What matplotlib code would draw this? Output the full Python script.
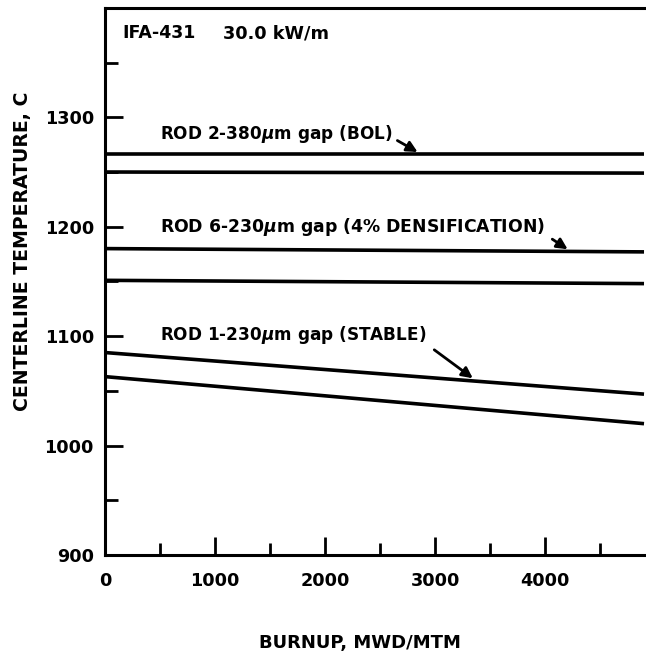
import matplotlib
matplotlib.use("Agg")
import matplotlib.pyplot as plt
from matplotlib.ticker import MultipleLocator

plt.rcParams['font.family'] = ['DejaVu Sans']
plt.rcParams['font.weight'] = 'bold'

# burnup end points (MWD/MTM) and centerline temperatures (C)
burnup = [0, 4900]
rod2_upper = [1266, 1266]
rod2_lower = [1250, 1249]
rod6_upper = [1180, 1177]
rod6_lower = [1151, 1148]
rod1_upper = [1085, 1047]
rod1_lower = [1063, 1020]

x_ticks = [0, 1000, 2000, 3000, 4000]
y_ticks = [900, 1000, 1100, 1200, 1300]

fig = plt.figure(figsize=(6.46, 6.56), dpi=100)
ax = fig.add_axes([0.1625, 0.154, 0.8375, 0.834])

for temps in (rod2_upper, rod2_lower, rod6_upper, rod6_lower, rod1_upper, rod1_lower):
    ax.plot(burnup, temps, color='black', linewidth=2.6, solid_capstyle='butt')

ax.set_xlim(0, 4918)
ax.set_ylim(900, 1400)
ax.set_xticks(x_ticks)
ax.set_yticks(y_ticks)
ax.xaxis.set_minor_locator(MultipleLocator(500))
ax.yaxis.set_minor_locator(MultipleLocator(50))
ax.tick_params(which='major', direction='in', length=13, width=2, labelsize=12.7, pad=8)
ax.tick_params(which='minor', direction='in', length=9, width=2)
ax.tick_params(axis='x', pad=12)
for lab in ax.get_xticklabels() + ax.get_yticklabels():
    lab.set_fontweight('bold')

for side in ('left', 'bottom', 'top'):
    ax.spines[side].set_linewidth(2.2)
ax.spines['right'].set_visible(False)

fig.text(360 / 646, 1 - 643 / 656, 'BURNUP, MWD/MTM', fontsize=13.0,
         fontweight='bold', ha='center', va='center')
fig.text(23 / 646, 1 - 251 / 656, 'CENTERLINE TEMPERATURE, C', fontsize=13.6,
         fontweight='bold', ha='center', va='center', rotation=90)

ax.text(155, 1377, 'IFA-431', fontsize=12.5, fontweight='bold', va='center')
ax.text(1073, 1377, '30.0 kW/m', fontsize=12.7, fontweight='bold', va='center')

ax.text(500, 1285, r'ROD 2-380$\mu$m gap (BOL)', fontsize=12.2, fontweight='bold', va='center')
ax.text(500, 1200, r'ROD 6-230$\mu$m gap (4% DENSIFICATION)', fontsize=12.4, fontweight='bold', va='center')
ax.text(500, 1101, r'ROD 1-230$\mu$m gap (STABLE)', fontsize=12.2, fontweight='bold', va='center')

arrow = dict(arrowstyle='-|>', color='black', lw=2, mutation_scale=16)
ax.annotate('', xy=(2864, 1267), xytext=(2636, 1280), arrowprops=arrow)
ax.annotate('', xy=(4227, 1178), xytext=(4045, 1190), arrowprops=arrow)
ax.annotate('', xy=(3364, 1060), xytext=(2973, 1089), arrowprops=arrow)

fig.savefig('out.png', dpi=100)
